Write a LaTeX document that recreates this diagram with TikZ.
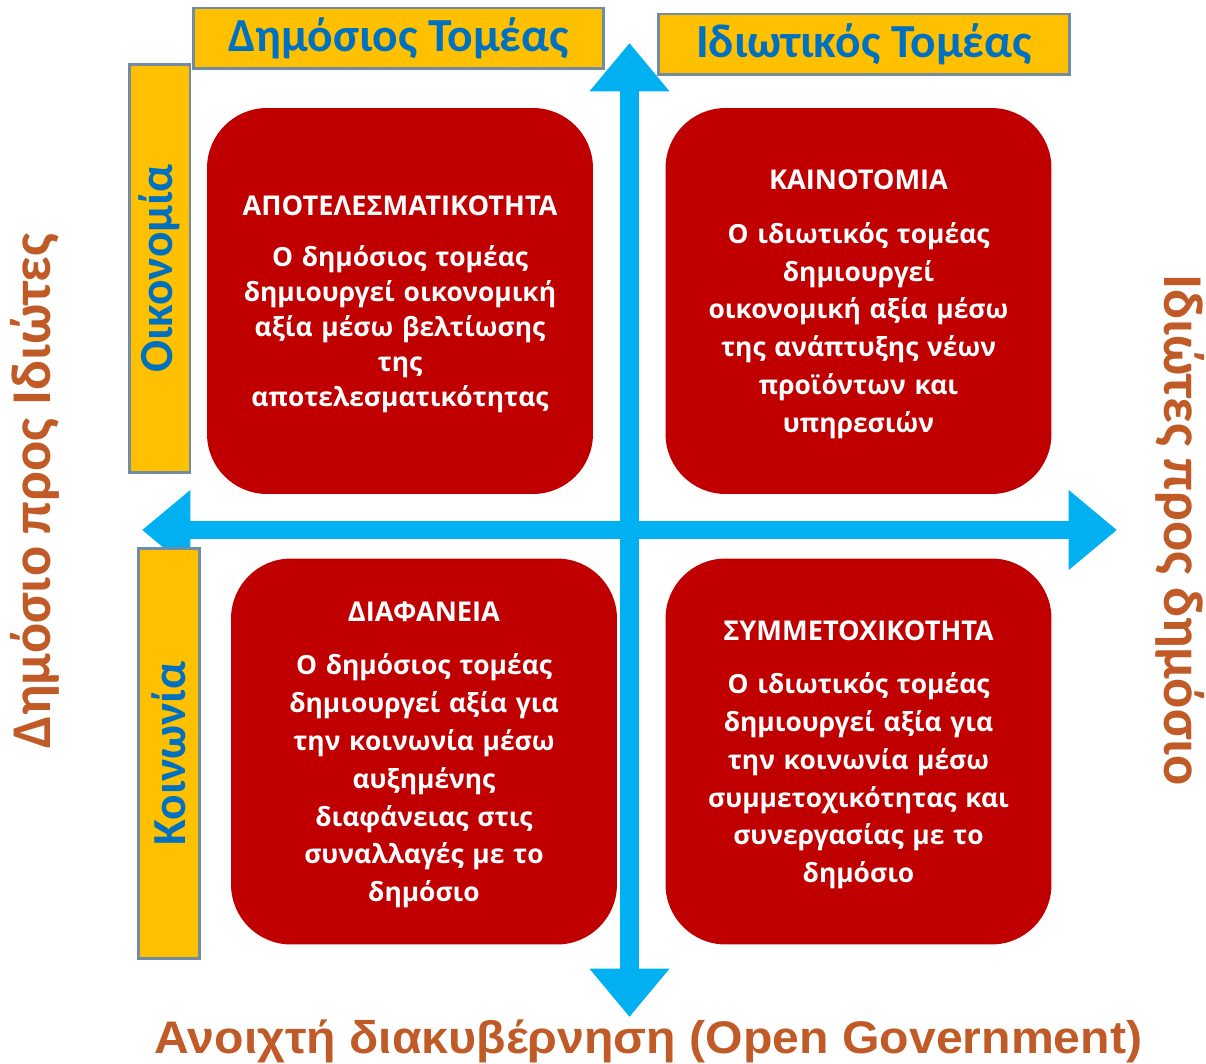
\documentclass[tikz,border=0pt]{standalone}
\usepackage{fontspec}
\setmainfont{Open Sans}
\newfontfamily\calfont{Carlito}
\newfontfamily\arialfont{Liberation Sans}
\usetikzlibrary{arrows.meta}
\definecolor{boxred}{RGB}{192,0,0}
\definecolor{axisblue}{RGB}{0,176,240}
\definecolor{tabyellow}{RGB}{255,192,0}
\definecolor{tabedge}{RGB}{115,140,165}
\definecolor{tabtext}{RGB}{0,112,192}
\definecolor{rustorange}{RGB}{192,90,38}

\tikzset{
  quadbox/.style={rectangle, rounded corners=1.2cm, fill=boxred,
    minimum width=7.72cm, minimum height=7.72cm, inner sep=0pt,
    text width=7.2cm, align=center, text=white,
    font=\bfseries\fontsize{15}{21.5}\selectfont},
  tab/.style={rectangle, fill=tabyellow, draw=tabedge, line width=1.7pt,
    inner sep=0pt, minimum height=1.22cm, text=tabtext,
    font=\calfont\bfseries\fontsize{27}{32}\selectfont},
  sidelabel/.style={text=rustorange, inner sep=0pt,
    font=\calfont\bfseries\fontsize{32}{38}\selectfont},
  axis/.style={draw=axisblue, line width=10.8pt,
    -{Triangle[length=27.5pt, width=43.7pt]}},
}
% title line of a quadrant, with a strut to push the text block down a little
\newcommand{\quadtitle}[1]{{\fontsize{15.5}{18}\selectfont\rule{0pt}{15pt}#1}}

\begin{document}
\begin{tikzpicture}[x=0.02cm, y=-0.02cm]
  \useasboundingbox (0,0) rectangle (1206,1064);

  % axes
  \coordinate (ctr) at (629.5,530);
  \coordinate (north) at (629.5,43);
  \coordinate (south) at (629.5,1017);
  \coordinate (west) at (142,530);
  \coordinate (east) at (1117,530);
  \draw[axis] (ctr) -- (north);
  \draw[axis] (ctr) -- (south);
  \draw[axis] (ctr) -- (west);
  \draw[axis] (ctr) -- (east);

  % quadrants
  \node[quadbox, font=\bfseries\fontsize{15}{20}\selectfont] (efficiency) at (400,301) {%
    \quadtitle{ΑΠΟΤΕΛΕΣΜΑΤΙΚΟΤΗΤΑ}\\[9pt]
    Ο δημόσιος τομέας\\ δημιουργεί οικονομική\\ αξία μέσω βελτίωσης\\ της\\ αποτελεσματικότητας};
  \node[quadbox] (innovation) at (858.5,301) {%
    \quadtitle{ΚΑΙΝΟΤΟΜΙΑ}\\[9pt]
    Ο ιδιωτικός τομέας\\ δημιουργεί\\ οικονομική αξία μέσω\\ της ανάπτυξης νέων\\ προϊόντων και\\ υπηρεσιών};
  \node[quadbox] (transparency) at (424,751.5) {%
    \quadtitle{ΔΙΑΦΑΝΕΙΑ}\\[9pt]
    Ο δημόσιος τομέας\\ δημιουργεί αξία για\\ την κοινωνία μέσω\\ αυξημένης\\ διαφάνειας στις\\ συναλλαγές με το\\ δημόσιο};
  \node[quadbox] (participation) at (858.5,751.5) {%
    \quadtitle{ΣΥΜΜΕΤΟΧΙΚΟΤΗΤΑ}\\[9pt]
    Ο ιδιωτικός τομέας\\ δημιουργεί αξία για\\ την κοινωνία μέσω\\ συμμετοχικότητας και\\ συνεργασίας με το\\ δημόσιο};

  % headers
  \node[tab, minimum width=8.22cm] (public) at (398.5,38.5) {Δημόσιος Τομέας};
  \node[tab, minimum width=8.24cm] (private) at (864,44.5) {Ιδιωτικός Τομέας};
  \node[tab, minimum width=8.18cm, rotate=90] (economy) at (159.5,268.5) {Οικονομία};
  \node[tab, minimum width=8.22cm, rotate=90] (society) at (169,753.5) {Κοινωνία};

  % outer labels
  \node[sidelabel, rotate=90] (pubtopriv) at (35,491) {Δημόσιο προς Ιδιώτες};
  \node[sidelabel, rotate=-90] (privtopub) at (1180,530) {Ιδιώτες προς δημόσιο};
  \node[text=rustorange, inner sep=0pt, anchor=base, xscale=1.055,
        font=\arialfont\bfseries\fontsize{26}{30}\selectfont] (opengov) at (648.5,1053)
        {Ανοιχτή διακυβέρνηση (Open Government)};
\end{tikzpicture}
\end{document}
